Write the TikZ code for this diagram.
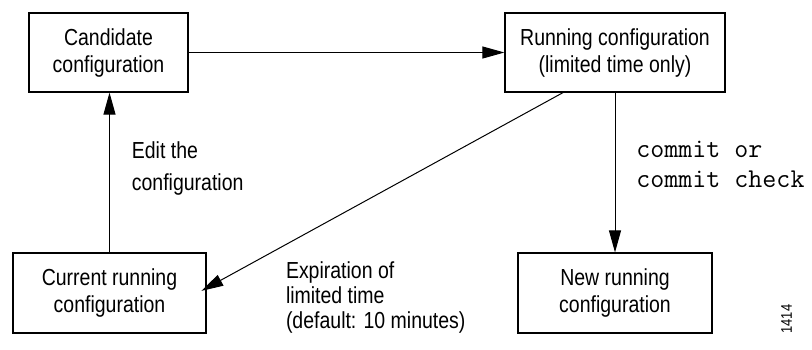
\documentclass[tikz,border=0pt]{standalone}
\usepackage{fontspec}
\setmainfont{Liberation Sans}[FakeStretch=0.84]
\usetikzlibrary{positioning,arrows.meta}

\tikzset{
    cfgbox/.style={draw, line width=0.6pt, align=center, minimum height=39.5pt,
        inner sep=0pt, font=\fontsize{11.6pt}{13.5pt}\selectfont},
    flow/.style={line width=0.5pt, -{Triangle[length=11pt,width=6pt]}},
    note/.style={align=left, inner sep=0pt, font=\fontsize{11.6pt}{12.5pt}\selectfont},
    cmd/.style={align=left, inner sep=0pt, font=\fontsize{13.6pt}{15pt}\ttfamily}
}

\begin{document}
\begin{tikzpicture}
    \useasboundingbox (0,0) rectangle (406pt,-174.5pt);
    \node [cfgbox, minimum width=79.5pt] (cand) at (54.25pt,-26.25pt) {Candidate\\configuration};
    \node [cfgbox, minimum width=110pt, right=253.25pt of cand.center, anchor=center] (run) {Running configuration\\(limited time only)};
    \node [cfgbox, minimum width=96.5pt, minimum height=40pt, below=120.25pt of cand.center, anchor=center, xshift=0.5pt] (cur) {Current running\\configuration};
    \node [cfgbox, minimum width=97pt, minimum height=40pt, below=120.25pt of run.center, anchor=center] (new) {New running\\configuration};
    \node [note, font=\fontsize{11.6pt}{15.8pt}\selectfont, right=11pt of cur.north, anchor=west, yshift=42pt] (edit) {Edit the\\configuration};
    \node [note, right=39.5pt of cur.east, anchor=west, yshift=-2pt] (expire) {Expiration of\\limited time\\(default: 10 minutes)};
    \node [cmd, right=10.5pt of run.south, anchor=west, yshift=-36pt] (commit) {commit or\\commit check};
    \node [rotate=90, inner sep=0pt, font=\fontsize{7.7pt}{8pt}\selectfont] (fig) at ([xshift=37pt,yshift=-13pt]new.east) {1414};
    \draw [flow] (cand) -- (run);
    \draw [flow] (cur.north) -- (cur.north |- cand.south);
    \draw [flow] (run) -- (new);
    \draw [flow, shorten >=-3pt] ([xshift=-26pt]run.south) -- ([yshift=2.5pt]cur.east);
\end{tikzpicture}
\end{document}
